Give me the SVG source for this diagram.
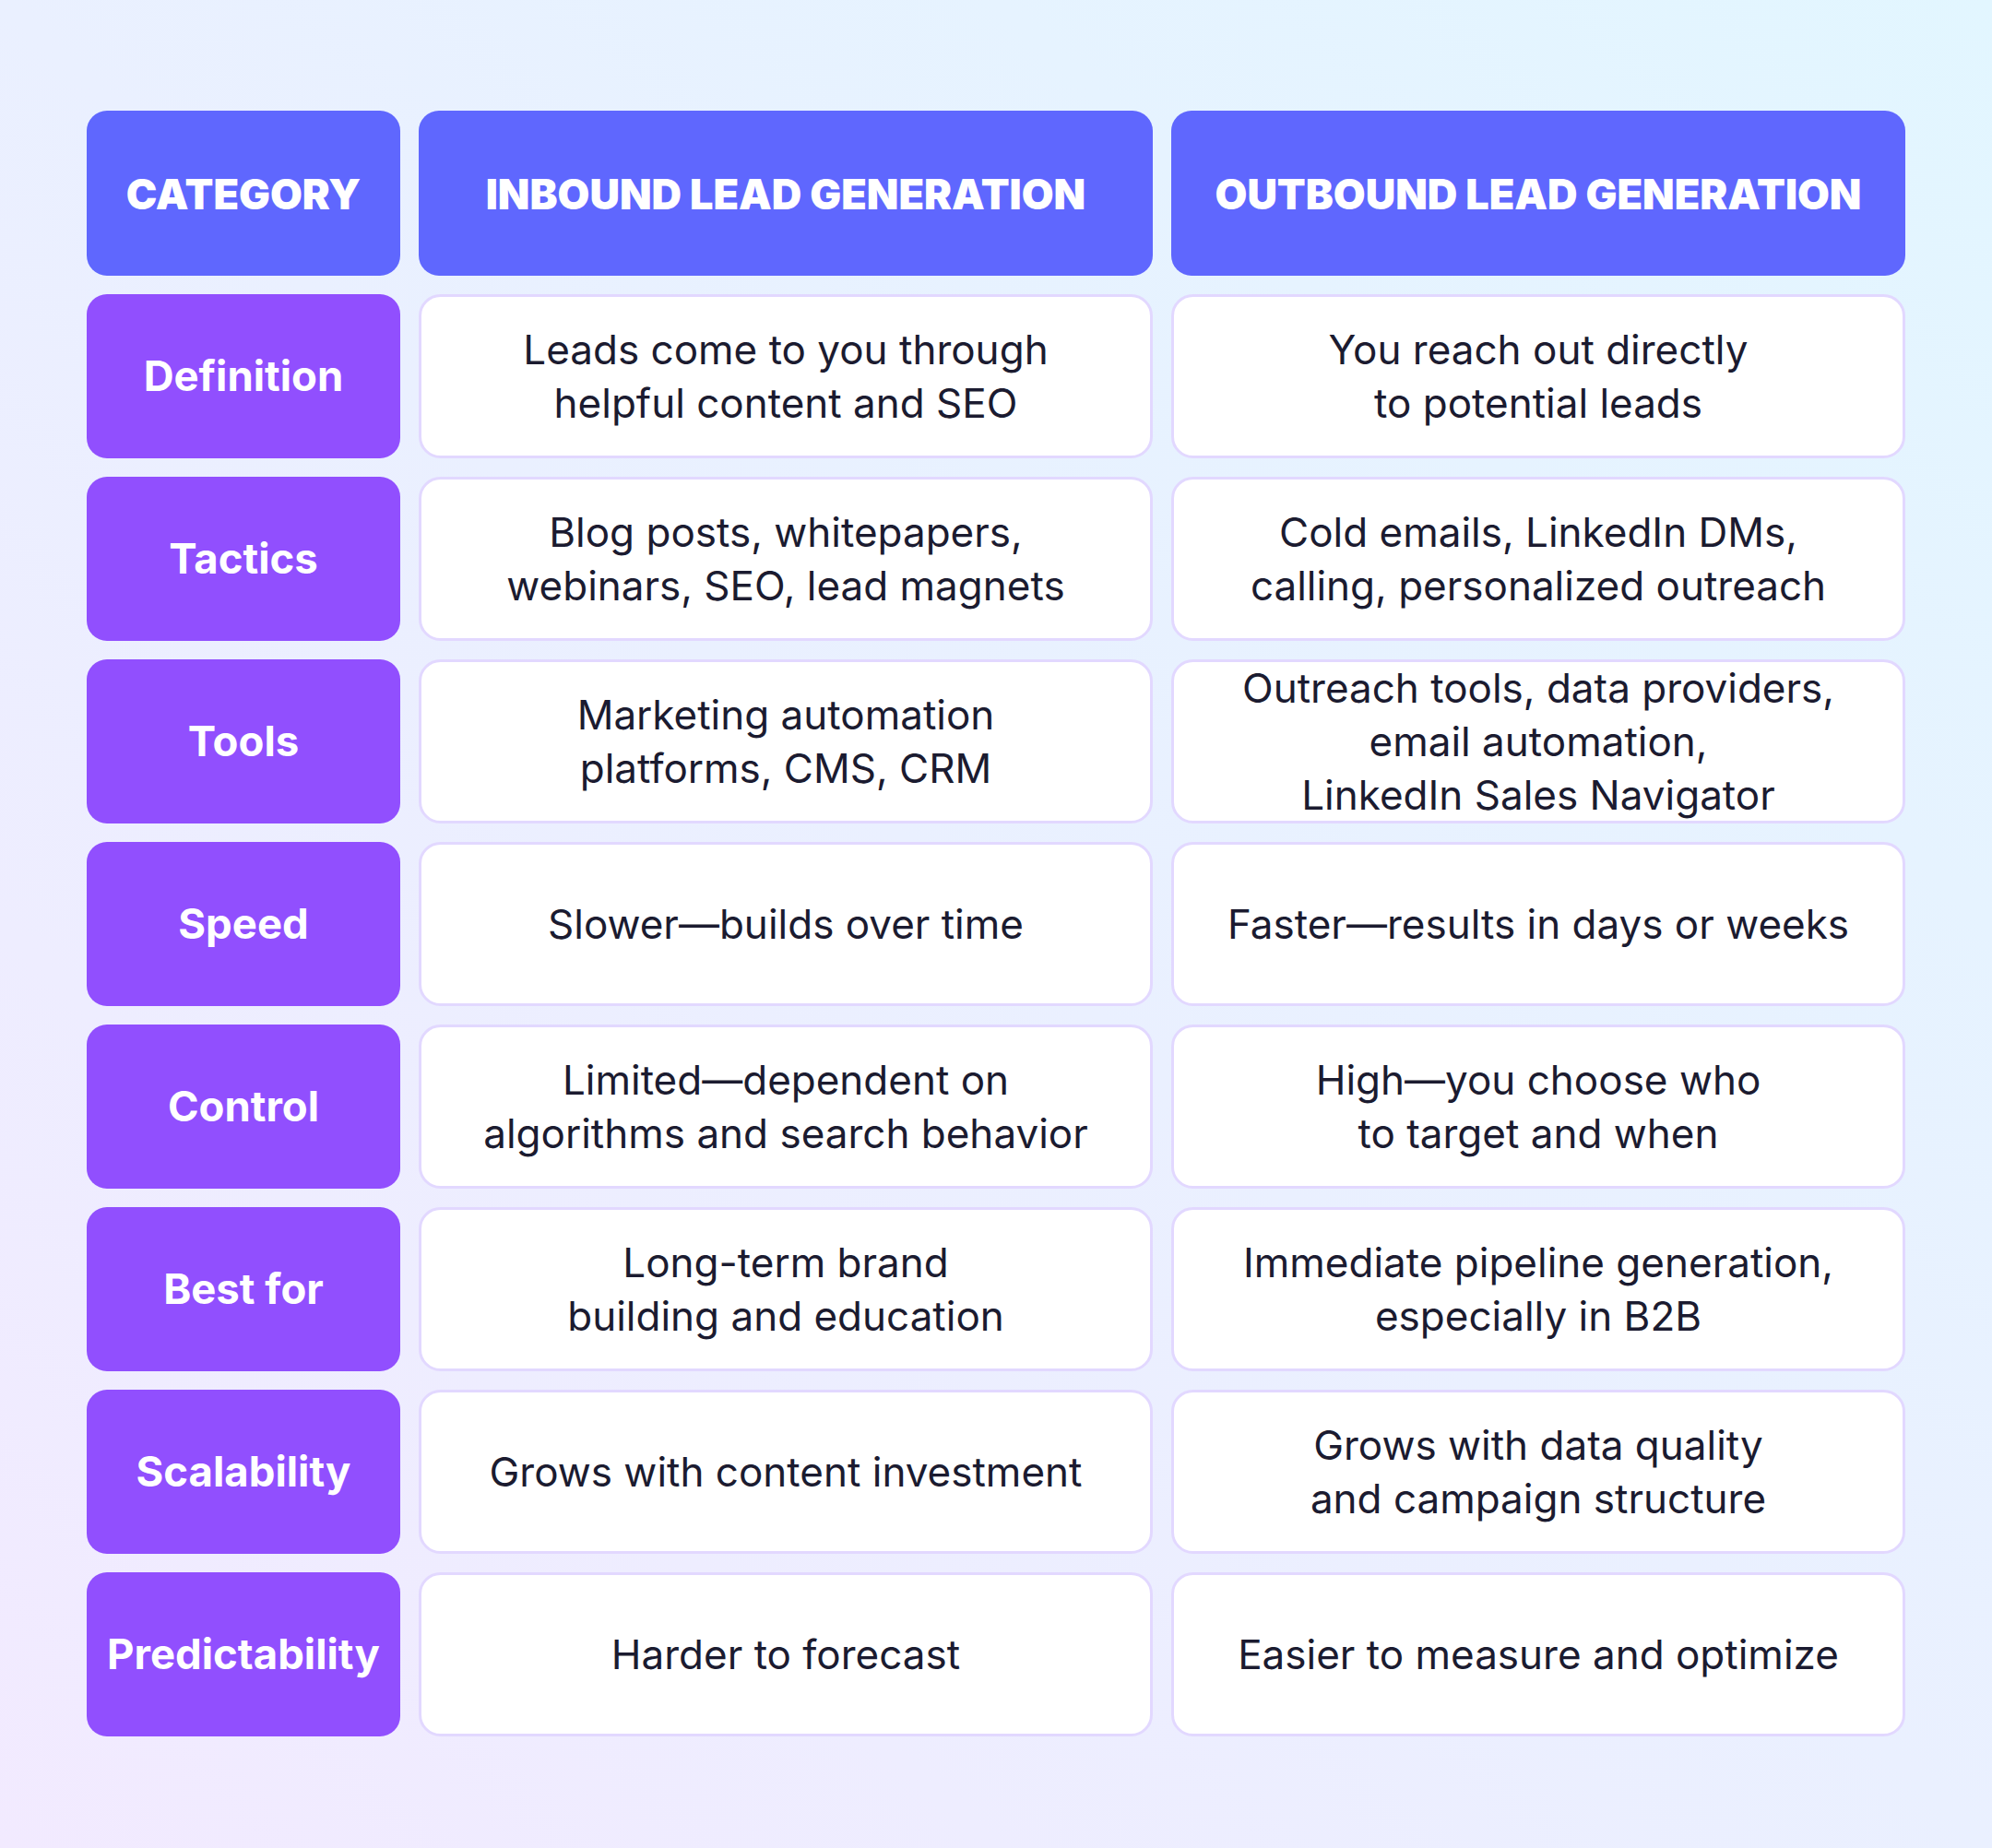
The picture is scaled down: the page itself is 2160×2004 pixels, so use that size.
<svg xmlns="http://www.w3.org/2000/svg" width="2160" height="2004" viewBox="0 0 2160 2004">
<defs>
<linearGradient id="bg" x1="1" y1="0" x2="0" y2="1">
<stop offset="0" stop-color="#E2F6FF"/>
<stop offset="1" stop-color="#F2EAFF"/>
</linearGradient>
<style>
.hd{fill:#5F67FE}
.lb{fill:#914FFE}
.cell{fill:#FFFFFF;stroke:#E2D8FF;stroke-width:3}
.ht{font-family:Inter,"Liberation Sans",sans-serif;font-weight:900;font-size:45px;fill:#FFFFFF;text-anchor:middle;letter-spacing:0px}
.lt{font-family:Inter,"Liberation Sans",sans-serif;font-weight:700;font-size:45.5px;fill:#FFFFFF;text-anchor:middle}
.bt{font-family:Inter,"Liberation Sans",sans-serif;font-weight:400;font-size:44px;fill:#1B1B30;text-anchor:middle}
</style>
</defs>
<rect width="2160" height="2004" fill="url(#bg)"/>
<g id="connectors"/>
<g id="header">
<g id="h-category"><rect class="hd" x="94" y="120" width="340" height="179" rx="22"/><text class="ht" x="264" y="227">CATEGORY</text></g>
<g id="h-inbound"><rect class="hd" x="454" y="120" width="796" height="179" rx="22"/><text class="ht" x="852" y="227">INBOUND LEAD GENERATION</text></g>
<g id="h-outbound"><rect class="hd" x="1270" y="120" width="796" height="179" rx="22"/><text class="ht" x="1668" y="227">OUTBOUND LEAD GENERATION</text></g>
</g>
<g id="row-definition">
<rect class="lb" x="94" y="319" width="340" height="178" rx="22"/><text class="lt" x="264" y="424">Definition</text>
<rect class="cell" x="455.5" y="320.5" width="793" height="175" rx="22"/>
<text class="bt" x="852" y="395">Leads come to you through</text><text class="bt" x="852" y="453">helpful content and SEO</text>
<rect class="cell" x="1271.5" y="320.5" width="793" height="175" rx="22"/>
<text class="bt" x="1668" y="395">You reach out directly</text><text class="bt" x="1668" y="453">to potential leads</text>
</g>
<g id="row-tactics">
<rect class="lb" x="94" y="517" width="340" height="178" rx="22"/><text class="lt" x="264" y="622">Tactics</text>
<rect class="cell" x="455.5" y="518.5" width="793" height="175" rx="22"/>
<text class="bt" x="852" y="593">Blog posts, whitepapers,</text><text class="bt" x="852" y="651">webinars, SEO, lead magnets</text>
<rect class="cell" x="1271.5" y="518.5" width="793" height="175" rx="22"/>
<text class="bt" x="1668" y="593">Cold emails, LinkedIn DMs,</text><text class="bt" x="1668" y="651">calling, personalized outreach</text>
</g>
<g id="row-tools">
<rect class="lb" x="94" y="715" width="340" height="178" rx="22"/><text class="lt" x="264" y="820">Tools</text>
<rect class="cell" x="455.5" y="716.5" width="793" height="175" rx="22"/>
<text class="bt" x="852" y="791">Marketing automation</text><text class="bt" x="852" y="849">platforms, CMS, CRM</text>
<rect class="cell" x="1271.5" y="716.5" width="793" height="175" rx="22"/>
<text class="bt" x="1668" y="762">Outreach tools, data providers,</text><text class="bt" x="1668" y="820">email automation,</text><text class="bt" x="1668" y="878">LinkedIn Sales Navigator</text>
</g>
<g id="row-speed">
<rect class="lb" x="94" y="913" width="340" height="178" rx="22"/><text class="lt" x="264" y="1018">Speed</text>
<rect class="cell" x="455.5" y="914.5" width="793" height="175" rx="22"/>
<text class="bt" x="852" y="1018">Slower—builds over time</text>
<rect class="cell" x="1271.5" y="914.5" width="793" height="175" rx="22"/>
<text class="bt" x="1668" y="1018">Faster—results in days or weeks</text>
</g>
<g id="row-control">
<rect class="lb" x="94" y="1111" width="340" height="178" rx="22"/><text class="lt" x="264" y="1216">Control</text>
<rect class="cell" x="455.5" y="1112.5" width="793" height="175" rx="22"/>
<text class="bt" x="852" y="1187">Limited—dependent on</text><text class="bt" x="852" y="1245">algorithms and search behavior</text>
<rect class="cell" x="1271.5" y="1112.5" width="793" height="175" rx="22"/>
<text class="bt" x="1668" y="1187">High—you choose who</text><text class="bt" x="1668" y="1245">to target and when</text>
</g>
<g id="row-bestfor">
<rect class="lb" x="94" y="1309" width="340" height="178" rx="22"/><text class="lt" x="264" y="1414">Best for</text>
<rect class="cell" x="455.5" y="1310.5" width="793" height="175" rx="22"/>
<text class="bt" x="852" y="1385">Long-term brand</text><text class="bt" x="852" y="1443">building and education</text>
<rect class="cell" x="1271.5" y="1310.5" width="793" height="175" rx="22"/>
<text class="bt" x="1668" y="1385">Immediate pipeline generation,</text><text class="bt" x="1668" y="1443">especially in B2B</text>
</g>
<g id="row-scalability">
<rect class="lb" x="94" y="1507" width="340" height="178" rx="22"/><text class="lt" x="264" y="1612">Scalability</text>
<rect class="cell" x="455.5" y="1508.5" width="793" height="175" rx="22"/>
<text class="bt" x="852" y="1612">Grows with content investment</text>
<rect class="cell" x="1271.5" y="1508.5" width="793" height="175" rx="22"/>
<text class="bt" x="1668" y="1583">Grows with data quality</text><text class="bt" x="1668" y="1641">and campaign structure</text>
</g>
<g id="row-predictability">
<rect class="lb" x="94" y="1705" width="340" height="178" rx="22"/><text class="lt" x="264" y="1810">Predictability</text>
<rect class="cell" x="455.5" y="1706.5" width="793" height="175" rx="22"/>
<text class="bt" x="852" y="1810">Harder to forecast</text>
<rect class="cell" x="1271.5" y="1706.5" width="793" height="175" rx="22"/>
<text class="bt" x="1668" y="1810">Easier to measure and optimize</text>
</g>
</svg>
